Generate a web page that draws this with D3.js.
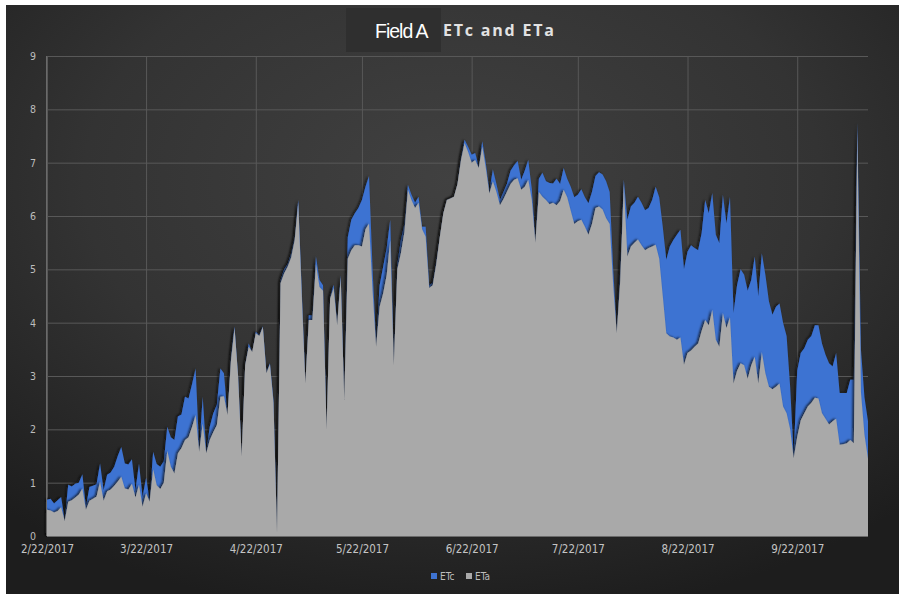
<!DOCTYPE html>
<html><head><meta charset="utf-8">
<script src="https://cdn.jsdelivr.net/npm/d3@7"></script>
<style>html,body{margin:0;padding:0;background:#fff;}svg{display:block;}</style>
</head><body><svg id="c" width="899" height="594"></svg>
<script>
const startDate = "2017-02-22";
const endDate = "2017-10-12";
const tickDates = ["2017-02-22","2017-03-22","2017-04-22","2017-05-22","2017-06-22","2017-07-22","2017-08-22","2017-09-22"];
const yTicks = [0,1,2,3,4,5,6,7,8,9];
const seriesNames = ["ETc","ETa"];
const etc = [0.68,0.70,0.61,0.67,0.73,0.30,0.96,0.93,0.98,1.00,
1.16,0.55,0.92,0.94,0.97,1.36,0.86,1.15,1.19,1.30,
1.50,1.67,1.36,1.34,1.44,0.86,1.36,0.73,1.09,0.68,
1.58,1.35,1.30,1.40,2.05,1.85,1.80,2.24,2.28,2.61,
2.58,2.85,3.14,1.61,2.61,1.58,2.05,2.30,2.46,3.14,
3.05,2.27,3.40,3.93,3.00,1.49,3.20,3.61,3.45,3.83,
3.77,3.93,3.08,3.24,2.55,0.08,4.80,5.00,5.10,5.30,
5.60,6.30,4.60,2.86,4.14,4.14,5.24,4.80,4.70,1.99,
4.49,4.71,3.99,4.89,2.55,5.60,5.93,6.05,6.15,6.30,
6.55,6.75,5.00,3.60,4.70,5.05,5.40,5.93,3.24,5.10,
5.55,5.85,6.58,6.40,6.25,6.36,5.80,5.80,4.70,4.75,
5.15,5.60,6.05,6.30,6.33,6.36,6.60,7.10,7.43,7.30,
7.15,7.18,6.93,7.40,7.00,6.46,6.87,6.60,6.30,6.45,
6.61,6.85,6.95,7.03,6.68,6.85,7.05,6.50,5.55,6.70,
6.81,6.65,6.62,6.61,6.70,6.60,6.90,6.70,6.55,6.35,
6.40,6.50,6.35,6.24,6.45,6.75,6.82,6.78,6.65,6.45,
5.00,3.83,5.00,6.68,5.93,6.18,6.25,6.36,6.25,6.11,
6.15,6.30,6.55,6.35,5.80,5.18,5.43,5.55,5.65,5.74,
5.00,5.33,5.45,5.40,5.36,5.68,6.30,6.05,6.43,5.65,
5.49,6.40,5.86,6.36,4.18,4.70,5.00,4.90,4.60,4.80,
5.24,4.49,5.30,4.90,4.40,4.15,4.30,4.36,4.00,3.75,
2.80,1.50,3.10,3.43,3.52,3.68,3.75,3.95,3.95,3.61,
3.40,3.24,3.18,3.43,2.68,2.68,2.68,2.93,2.93,7.75,
3.50,2.60,2.15];
const eta = [0.49,0.48,0.44,0.47,0.54,0.28,0.64,0.67,0.72,0.78,
0.89,0.49,0.66,0.70,0.74,1.02,0.66,0.84,0.87,0.94,
1.02,1.11,0.89,0.87,0.98,0.72,0.96,0.55,0.80,0.64,
1.25,0.95,0.88,1.00,1.60,1.30,1.17,1.55,1.65,1.80,
1.85,2.05,2.27,1.58,2.11,1.55,1.80,1.95,2.08,2.61,
2.62,2.27,3.30,3.90,3.00,1.49,3.20,3.55,3.45,3.80,
3.75,3.92,3.05,3.22,2.50,0.05,4.74,4.92,5.05,5.22,
5.55,6.25,4.50,2.86,4.05,4.05,5.10,4.67,4.60,1.99,
4.45,4.65,3.95,4.85,2.55,5.20,5.36,5.45,5.45,5.43,
5.75,5.86,4.60,3.55,4.30,4.55,4.90,5.55,3.20,5.00,
5.30,5.70,6.49,6.30,6.15,6.25,5.75,5.61,4.65,4.70,
5.10,5.60,6.05,6.30,6.33,6.36,6.60,7.05,7.37,7.20,
7.00,7.05,6.90,7.30,6.90,6.42,6.65,6.45,6.20,6.32,
6.46,6.60,6.68,6.71,6.49,6.55,6.68,6.30,5.50,6.45,
6.36,6.30,6.22,6.25,6.20,6.28,6.49,6.35,6.10,5.85,
5.90,5.93,5.80,5.65,5.85,6.15,6.18,6.12,5.96,5.85,
4.70,3.80,4.80,6.60,5.24,5.43,5.50,5.56,5.45,5.36,
5.40,5.43,5.46,5.20,4.50,3.80,3.74,3.72,3.68,3.72,
3.21,3.43,3.48,3.55,3.61,3.85,4.05,3.95,4.24,3.68,
3.55,4.18,3.90,4.10,2.86,3.10,3.24,3.20,2.95,3.20,
3.36,2.86,3.45,3.05,2.80,2.75,2.80,2.86,2.43,2.30,
2.00,1.46,1.86,2.17,2.30,2.43,2.50,2.59,2.58,2.30,
2.20,2.09,2.15,2.20,1.71,1.72,1.74,1.80,1.74,7.60,
2.70,1.90,1.45];

const parse = d3.timeParse("%Y-%m-%d");
const fmt = d3.timeFormat("%-m/%-d/%Y");
const dates = d3.timeDay.range(parse(startDate), d3.timeDay.offset(parse(endDate), 1));
const data = dates.map((d, i) => ({date: d, etc: etc[i], eta: eta[i]}));

const svg = d3.select("#c");
const W = 899, H = 594;
const defs = svg.append("defs");
const rg = defs.append("radialGradient").attr("id", "bg")
  .attr("cx", "50%").attr("cy", "30%").attr("r", "75%");
rg.append("stop").attr("offset", "0%").attr("stop-color", "#414141");
rg.append("stop").attr("offset", "55%").attr("stop-color", "#333333");
rg.append("stop").attr("offset", "100%").attr("stop-color", "#1d1d1d");
const sh = defs.append("filter").attr("id", "sh").attr("x", "-5%").attr("y", "-5%").attr("width", "110%").attr("height", "110%");
sh.append("feDropShadow").attr("dx", -1.5).attr("dy", -0.5).attr("stdDeviation", 1.2)
  .attr("flood-color", "#0a0a0a").attr("flood-opacity", 0.85);

svg.append("rect").attr("x", 6).attr("y", 5).attr("width", W - 6).attr("height", H - 5).attr("fill", "url(#bg)");

const L = 47, R = 868, T = 56, B = 536;
const x = d3.scaleTime().domain([parse(startDate), parse(endDate)]).range([L, R]);
const y = d3.scaleLinear().domain([0, 9]).range([B, T]);

// gridlines
const gy = svg.append("g").attr("transform", `translate(${L},0)`)
  .call(d3.axisLeft(y).tickValues(yTicks).tickSize(-(R - L)).tickFormat(""));
gy.select(".domain").remove();
gy.selectAll("line").attr("stroke", "#585858").attr("stroke-width", 1);
const gx = svg.append("g").attr("transform", `translate(0,${B})`)
  .call(d3.axisBottom(x).tickValues(tickDates.map(parse)).tickSize(-(B - T)).tickFormat(""));
gx.select(".domain").remove();
gx.selectAll("line").attr("stroke", "#585858").attr("stroke-width", 1);

// areas
const areaC = d3.area().x(d => x(d.date)).y0(y(0)).y1(d => y(d.etc));
const areaA = d3.area().x(d => x(d.date)).y0(y(0)).y1(d => y(d.eta));
svg.append("path").datum(data).attr("d", areaC).attr("fill", "#3e73d2").attr("filter", "url(#sh)");
svg.append("path").datum(data).attr("d", areaA).attr("fill", "#a9a9a9").attr("filter", "url(#sh)");

// axis lines
svg.append("line").attr("x1", L - 0.5).attr("x2", L - 0.5).attr("y1", T).attr("y2", B).attr("stroke", "#6a6a6a");
svg.append("line").attr("x1", L).attr("x2", R).attr("y1", B + 0.5).attr("y2", B + 0.5).attr("stroke", "#6a6a6a");

// y labels
const ya = svg.append("g").attr("transform", `translate(${L},0)`)
  .call(d3.axisLeft(y).tickValues(yTicks).tickSize(0).tickPadding(11).tickFormat(d3.format("d")));
ya.select(".domain").remove();
ya.selectAll("text").attr("fill", "#bdbdbd").attr("font-size", "10.5px")
  .attr("font-family", "'Liberation Sans Narrow','DejaVu Sans Condensed',Arial,sans-serif");

// x labels
const xa = svg.append("g").attr("transform", `translate(0,${B})`)
  .call(d3.axisBottom(x).tickValues(tickDates.map(parse)).tickSize(0).tickPadding(9).tickFormat(fmt));
xa.select(".domain").remove();
xa.selectAll("text").attr("fill", "#c4c4c4").attr("font-size", "11.5px")
  .attr("font-family", "'Liberation Sans Narrow','DejaVu Sans Condensed',Arial,sans-serif");

// title
svg.append("rect").attr("x", 346).attr("y", 8).attr("width", 95).attr("height", 44).attr("fill", "#2f2f2f");
svg.append("text").attr("x", 375).attr("y", 38).text("Field A")
  .attr("fill", "#ffffff").attr("font-size", "19.5px").attr("letter-spacing", "-1px")
  .attr("font-family", "'Liberation Sans',Arial,sans-serif");
svg.append("text").attr("x", 443).attr("y", 36).text("ETc and ETa")
  .attr("fill", "#e2e2e2").attr("font-size", "16px").attr("font-weight", "bold").attr("letter-spacing", "1.8px")
  .attr("font-family", "'Open Sans',sans-serif");

// legend
const legColors = ["#3e73d2", "#a9a9a9"];
const lg = svg.append("g").attr("transform", "translate(431,573)");
seriesNames.forEach((n, i) => {
  const g = lg.append("g").attr("transform", `translate(${i * 35},0)`);
  g.append("rect").attr("width", 6).attr("height", 6).attr("fill", legColors[i]);
  g.append("text").attr("x", 9).attr("y", 6.5).text(n).attr("fill", "#bdbdbd")
    .attr("font-size", "10px").attr("font-family", "'Liberation Sans Narrow','DejaVu Sans Condensed',Arial,sans-serif");
});
</script></body></html>
